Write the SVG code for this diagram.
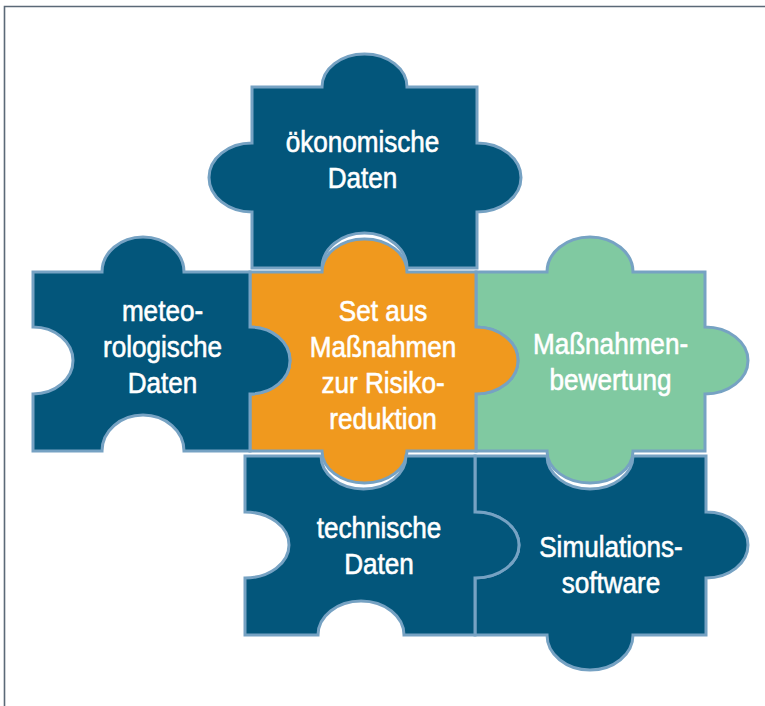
<svg xmlns="http://www.w3.org/2000/svg" width="765" height="706" viewBox="0 0 765 706">
<style>
.p{stroke:#76a2c3;stroke-width:3;stroke-linejoin:miter}
.d{fill:#03567b}
.o{fill:#f0991e}
.g{fill:#80c9a1}
.t{fill:#ffffff;stroke:#ffffff;stroke-width:0.6;font-family:"Liberation Sans",Arial,sans-serif;font-size:30px;text-anchor:middle}
</style>
<rect x="0" y="0" width="765" height="706" fill="#ffffff"/>
<path d="M4.5,706 L4.5,6.5 L765,6.5" fill="none" stroke="#5b6977" stroke-width="1.6"/>
<g id="connectors"/>
<g id="econ">
<path class="p d" d="M252,87 L322,87 A42.5,33 0 0 1 407,87 L477,87 L477,143 A44,34.5 0 0 1 477,212 L477,268 L407,268 A42.5,35 0 0 0 322,268 L252,268 L252,212 A43,34.5 0 0 1 252,143 Z"/>
<g transform="translate(362.5,0) scale(0.87,1)"><text class="t" x="0" y="152">ökonomische</text><text class="t" x="0" y="188">Daten</text></g>
</g>
<g id="eval">
<path class="p g" d="M476,272 L547,272 A43,35 0 0 1 633,272 L705,272 L705,327 A43,33.5 0 0 1 705,394 L705,451 L633,451 A43,32 0 0 1 547,451 L476,451 L476,394 A42,33.5 0 0 0 476,327 Z"/>
<g transform="translate(610.5,0) scale(0.87,1)"><text class="t" x="0" y="354">Maßnahmen-</text><text class="t" x="0" y="390">bewertung</text></g>
</g>
<g id="core">
<path class="p o" d="M250,272 L322,272 A42.5,33 0 0 1 407,272 L476,272 L476,327 A42,33.5 0 0 1 476,394 L476,451 L407,451 A42.5,32 0 0 1 322,451 L250,451 L250,394 A40,33.5 0 0 0 250,327 Z"/>
<g transform="translate(383,0) scale(0.87,1)"><text class="t" x="0" y="321">Set aus</text><text class="t" x="0" y="357">Maßnahmen</text><text class="t" x="0" y="393">zur Risiko-</text><text class="t" x="0" y="429">reduktion</text></g>
</g>
<g id="meteo">
<path class="p d" d="M33,272 L102,272 A41,35 0 0 1 184,272 L250,272 L250,327 A40,33.5 0 0 1 250,394 L250,451 L184,451 A41,36 0 0 0 102,451 L33,451 L33,394 A40,33.5 0 0 0 33,327 Z"/>
<g transform="translate(162.5,0) scale(0.87,1)"><text class="t" x="0" y="321">meteo-</text><text class="t" x="0" y="357">rologische</text><text class="t" x="0" y="393">Daten</text></g>
</g>
<g id="sim">
<path class="p d" d="M475,456 L547,456 A43,33 0 0 0 633,456 L706,456 L706,512 A42,33 0 0 1 706,578 L706,635 L633,635 A43,35 0 0 1 547,635 L475,635 L475,578 A44,33 0 0 0 475,512 Z"/>
<g transform="translate(611,0) scale(0.87,1)"><text class="t" x="0" y="557">Simulations-</text><text class="t" x="0" y="593">software</text></g>
</g>
<g id="tech">
<path class="p d" d="M245,456 L321,456 A42.5,33 0 0 0 406,456 L475,456 L475,512 A44,33 0 0 1 475,578 L475,635 L404,635 A43,34 0 0 0 318,635 L245,635 L245,578 A44,33 0 0 0 245,512 Z"/>
<g transform="translate(379,0) scale(0.87,1)"><text class="t" x="0" y="538">technische</text><text class="t" x="0" y="574">Daten</text></g>
</g>
</svg>
